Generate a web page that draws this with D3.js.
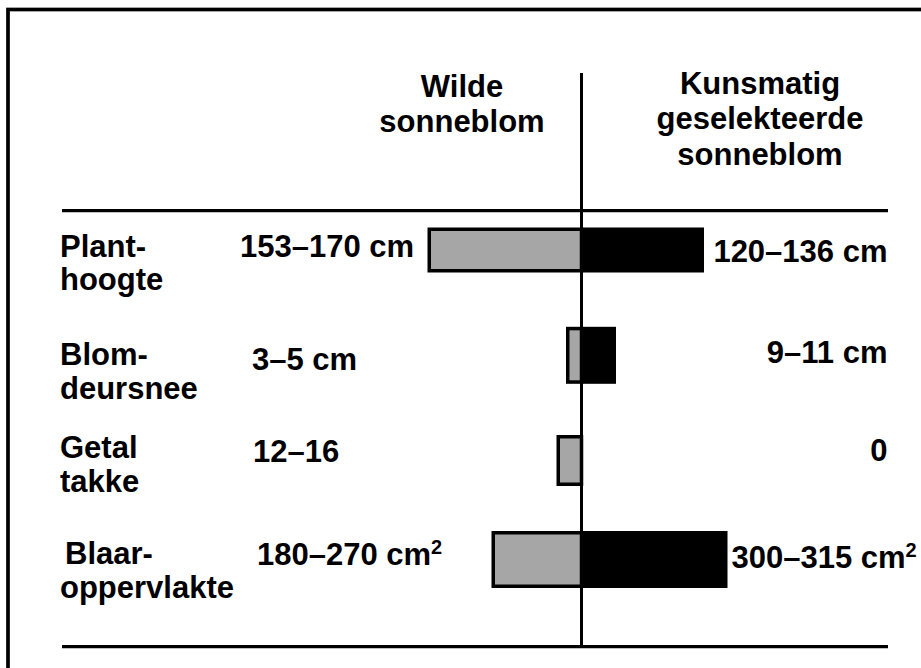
<!DOCTYPE html>
<html>
<head>
<meta charset="utf-8">
<script src="https://cdn.jsdelivr.net/npm/d3@7"></script>
<style>
  html, body { margin: 0; padding: 0; background: #fff; overflow: hidden; }
  svg { display: block; }
  text { font-family: "Liberation Sans", Arial, sans-serif; font-weight: bold; fill: #000; }
</style>
</head>
<body>
<svg id="chart" width="921" height="668"></svg>
<script>
// ---- data ----
const categories = ["Planthoogte", "Blomdeursnee", "Getal takke", "Blaaroppervlakte"];
const categoryLines = [["Plant-", "hoogte"], ["Blom-", "deursnee"], ["Getal", "takke"], ["Blaar-", "oppervlakte"]];
const seriesNames = [["Wilde", "sonneblom"], ["Kunsmatig", "geselekteerde", "sonneblom"]];
const wildLabels = ["153–170 cm", "3–5 cm", "12–16", "180–270 cm"];
const cultLabels = ["120–136 cm", "9–11 cm", "0", "300–315 cm"];
const labelSup = ["", "", "", "2"];
// relative bar lengths (wild to the left, cultivated to the right)
const wildBar = [154, 15.5, 25, 90];
const cultBar = [122.5, 34.5, 0, 146];

// ---- layout ----
const cx = 581.5;
const rowCentres = [250, 355.3, 460.5, 559.5];
const barHeights = [45, 57, 51, 57];
const catLabelDy = [6.7, 9.7, -2.2, 4.5];
const wildLabelX = [240, 252, 253, 257];
const wildLabelDy = [6.7, 14.7, 1.2, 5.5];
const cultLabelDy = [11.7, 7.5, 0.2, 8.8];
const cultAnchorEnd = [true, true, true, false];

const svg = d3.select("#chart");

const x = d3.scaleLinear().domain([-200, 200]).range([cx - 200, cx + 200]);
const y = d3.scaleOrdinal().domain(categories).range(rowCentres);

// outer frame
svg.append("rect")
  .attr("x", 8).attr("y", 9.5)
  .attr("width", 1000).attr("height", 1000)
  .attr("fill", "none").attr("stroke", "#000").attr("stroke-width", 3.7);

// headers
const hdr = svg.append("g");
hdr.selectAll("text.wild").data(seriesNames[0]).join("text")
  .attr("class", "wild")
  .attr("x", 462).attr("y", (d, i) => 97 + i * 34.5)
  .attr("text-anchor", "middle").attr("font-size", 31).text(d => d);
hdr.selectAll("text.cult").data(seriesNames[1]).join("text")
  .attr("class", "cult")
  .attr("x", 760).attr("y", (d, i) => 93.5 + i * 35.5)
  .attr("text-anchor", "middle").attr("font-size", 31).text(d => d);

// row labels
const rows = svg.append("g").selectAll("g").data(categories).join("g");
rows.each(function (c, i) {
  const g = d3.select(this);
  const yc = y(c);
  g.selectAll("text.cat").data(categoryLines[i]).join("text")
    .attr("class", "cat")
    .attr("x", (d, j) => (i === 3 && j === 0) ? 65 : 60)
    .attr("y", (d, j) => yc + catLabelDy[i] + j * 33.5)
    .attr("font-size", 31).text(d => d);
});

// wild bars (grey with outline)
const sw = 3.5;
svg.append("g").selectAll("rect").data(categories).join("rect")
  .attr("x", (c, i) => x(-wildBar[i]) + sw / 2)
  .attr("y", (c, i) => y(c) - barHeights[i] / 2 + sw / 2)
  .attr("width", (c, i) => x(0) - x(-wildBar[i]) - sw / 2)
  .attr("height", (c, i) => barHeights[i] - sw)
  .attr("fill", "#a6a6a6").attr("stroke", "#000").attr("stroke-width", sw);

// cultivated bars (black)
svg.append("g").selectAll("rect").data(categories).join("rect")
  .attr("x", x(0) - 1.5)
  .attr("y", (c, i) => y(c) - barHeights[i] / 2)
  .attr("width", (c, i) => cultBar[i] > 0 ? x(cultBar[i]) - x(0) + 1.5 : 0)
  .attr("height", (c, i) => barHeights[i])
  .attr("fill", "#000");

// centre line
svg.append("line")
  .attr("x1", cx).attr("x2", cx).attr("y1", 73).attr("y2", 646)
  .attr("stroke", "#000").attr("stroke-width", 3);

// horizontal rules
svg.append("g").selectAll("line").data([210.7, 646.7]).join("line")
  .attr("x1", 62).attr("x2", 888).attr("y1", d => d).attr("y2", d => d)
  .attr("stroke", "#000").attr("stroke-width", 3.2);

// value labels
function addLabel(sel, txt, sup) {
  sel.append("tspan").text(txt);
  if (sup) {
    sel.append("tspan").attr("font-size", 20).attr("dy", -11).text(sup);
  }
}
svg.append("g").selectAll("text").data(categories).join("text")
  .attr("x", (c, i) => wildLabelX[i])
  .attr("y", (c, i) => y(c) + wildLabelDy[i])
  .attr("font-size", 31)
  .each(function (c, i) { addLabel(d3.select(this), wildLabels[i], labelSup[i]); });

svg.append("g").selectAll("text").data(categories).join("text")
  .attr("x", (c, i) => cultAnchorEnd[i] ? 887.5 : 731.5)
  .attr("y", (c, i) => y(c) + cultLabelDy[i])
  .attr("text-anchor", (c, i) => cultAnchorEnd[i] ? "end" : "start")
  .attr("font-size", 31)
  .each(function (c, i) { addLabel(d3.select(this), cultLabels[i], labelSup[i]); });
</script>
</body>
</html>
